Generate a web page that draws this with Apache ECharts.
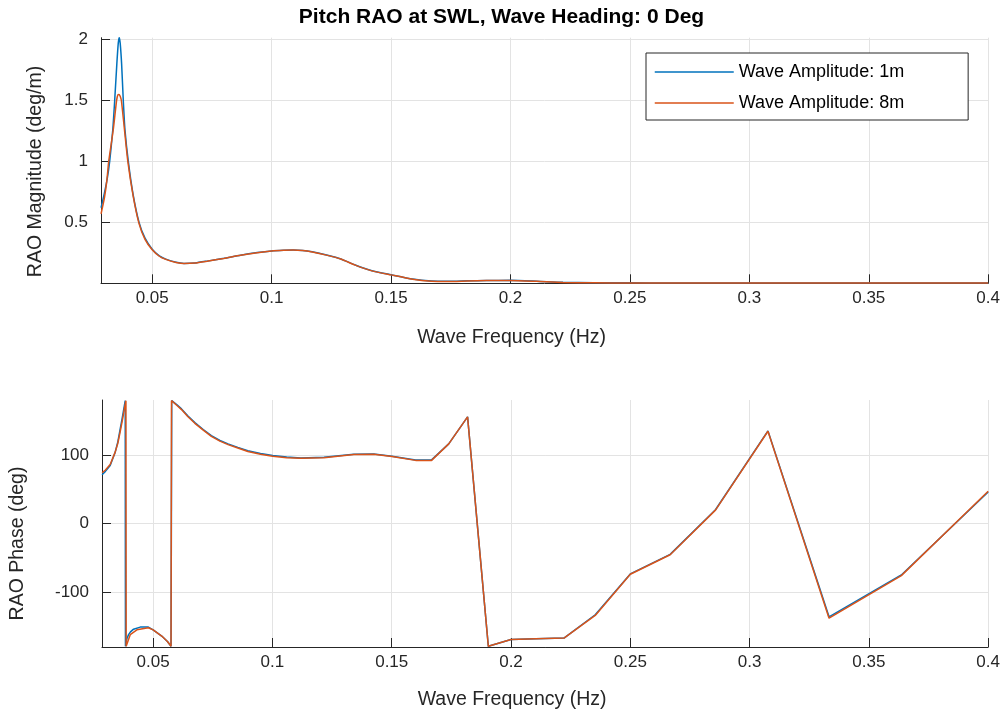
<!DOCTYPE html>
<html>
<head>
<meta charset="utf-8">
<script src="https://cdn.jsdelivr.net/npm/echarts@6/dist/echarts.min.js"></script>
<style>
html,body{margin:0;padding:0;background:#fff;}
#chart{width:1003px;height:714px;}
</style>
</head>
<body>
<div id="chart"></div>
<script>
// ---------- DATA ----------
const seriesNames = ['Wave Amplitude: 1m', 'Wave Amplitude: 8m'];

// Magnitude, 1 m amplitude
const freqMag1 = [0.0286,0.0300,0.0312,0.0322,0.0335,0.0343,0.0352,0.0358,0.0362,0.0366,0.0372,0.0379,0.0386,0.0400,0.0420,0.0445,0.0470,0.0500,0.0530,0.0557,0.0600,0.0633,0.0680,0.0730,0.0800,0.0870,0.0940,0.1000,0.1050,0.1090,0.1130,0.1170,0.1230,0.1290,0.1350,0.1420,0.1500,0.1590,0.1670,0.1740,0.1820,0.1900,0.2000,0.2110,0.2220,0.2350,0.2500,0.2670,0.2860,0.3080,0.3330,0.3640,0.4000];
const mag1 = [0.62,0.74,0.86,1.00,1.26,1.50,1.80,1.97,2.015,1.97,1.80,1.50,1.26,1.00,0.73,0.50,0.37,0.28,0.225,0.198,0.172,0.163,0.167,0.182,0.205,0.231,0.252,0.266,0.272,0.274,0.270,0.258,0.232,0.200,0.150,0.103,0.070,0.035,0.018,0.016,0.020,0.023,0.024,0.017,0.008,0.005,0.004,0.003,0.003,0.003,0.003,0.003,0.003];

// Magnitude, 8 m amplitude
const freqMag8 = [0.0286,0.0300,0.0310,0.0318,0.0337,0.0351,0.0356,0.0361,0.0366,0.0371,0.0384,0.0398,0.0420,0.0445,0.0470,0.0500,0.0530,0.0557,0.0600,0.0633,0.0680,0.0730,0.0800,0.0870,0.0940,0.1000,0.1050,0.1090,0.1130,0.1170,0.1230,0.1290,0.1350,0.1420,0.1500,0.1590,0.1670,0.1740,0.1820,0.1900,0.2000,0.2110,0.2220,0.2350,0.2500,0.2670,0.2860,0.3080,0.3330,0.3640,0.4000];
const mag8 = [0.57,0.70,0.84,1.00,1.26,1.50,1.545,1.55,1.535,1.50,1.26,1.00,0.72,0.49,0.36,0.275,0.222,0.196,0.171,0.162,0.166,0.181,0.204,0.230,0.251,0.265,0.271,0.273,0.269,0.257,0.231,0.199,0.149,0.102,0.069,0.034,0.017,0.015,0.019,0.022,0.023,0.016,0.007,0.004,0.003,0.003,0.003,0.003,0.003,0.003,0.003];

// Phase, 1 m amplitude
const freqPh1 = [0.0286,0.0300,0.0320,0.0341,0.0352,0.0362,0.0370,0.0376,0.0380,0.0383,0.0384,0.0390,0.0397,0.0405,0.0418,0.0446,0.0480,0.0500,0.0536,0.0560,0.0575,0.0578,0.0600,0.0619,0.0645,0.0675,0.0710,0.0744,0.0780,0.0814,0.0855,0.0897,0.0950,0.1001,0.1060,0.1119,0.1216,0.1341,0.1425,0.1501,0.1600,0.1667,0.1739,0.1818,0.1905,0.2000,0.2105,0.2222,0.2353,0.2500,0.2667,0.2857,0.3077,0.3333,0.3636,0.4000];
const phase1 = [71,76,84.5,104,119,138,153,165,173,179,-179,-168,-162,-158,-154,-151,-151,-155,-164,-172,-179,179,173,167,157,147,137,128,121,116,111,106,102,99,97,95.6,96.5,101,101.4,98,92.7,92.7,116,155.5,-179,-169,-168,-167,-133,-73.5,-45,20,135,-136,-75,46];

// Phase, 8 m amplitude
const freqPh8 = [0.0286,0.0300,0.0320,0.0341,0.0352,0.0362,0.0372,0.0380,0.0386,0.0387,0.0393,0.0404,0.0432,0.0480,0.0500,0.0536,0.0560,0.0575,0.0577,0.0600,0.0619,0.0645,0.0675,0.0710,0.0744,0.0780,0.0814,0.0855,0.0897,0.0950,0.1001,0.1060,0.1119,0.1216,0.1341,0.1425,0.1501,0.1600,0.1667,0.1739,0.1818,0.1905,0.2000,0.2105,0.2222,0.2353,0.2500,0.2667,0.2857,0.3077,0.3333,0.3636,0.4000];
const phase8 = [74,78,86,104,117,134,152,168,179,-179,-177,-162,-155,-152,-155,-164,-172,-179,179,172,166,156,146,136,127,120,115,110,105,101,98,96,95,96,100.5,101,97.5,92,92,116,155.5,-179,-169,-168,-167,-134,-74,-45.5,19.5,134.5,-138,-76,47];

// Axis ticks
const freqTicks = [0.05,0.1,0.15,0.2,0.25,0.3,0.35,0.4];
const magTicks = [0.5,1,1.5,2];
const phaseTicks = [-100,0,100];
const freqRange = [0.02857, 0.4];
const magRange = [0, 2.015];
const phaseRange = [-180, 180];

// ---------- CHART ----------
const pairs = (xs, ys) => xs.map((x, i) => [x, ys[i]]);
const BLUE = '#0072BD', ORANGE = '#D95319', AX = '#262626', GRID = '#e3e3e3';
const FONT = 'Liberation Sans, Arial, Helvetica, sans-serif';
const TICK_FS = 17, NAME_FS = 19.5;

function xAxis(idx) {
  return {
    type: 'value', gridIndex: idx, min: freqRange[0], max: freqRange[1],
    name: 'Wave Frequency (Hz)', nameLocation: 'middle', nameGap: idx === 0 ? 44 : 43,
    nameTextStyle: { color: AX, fontSize: NAME_FS, fontFamily: FONT, padding: [0, 66, 0, 0] },
    axisLine: { onZero: false, lineStyle: { color: AX, width: 1 } },
    axisTick: { inside: true, length: 9, customValues: freqTicks, lineStyle: { color: AX } },
    axisLabel: { customValues: freqTicks, color: AX, fontSize: TICK_FS, fontFamily: FONT, margin: 7,
      formatter: v => String(+v.toFixed(2)) },
    splitLine: { show: true, lineStyle: { color: GRID, width: 1 } }
  };
}
function yAxis(idx, name, range, ticks, gap, shift) {
  return {
    type: 'value', gridIndex: idx, min: range[0], max: range[1],
    name: name, nameLocation: 'middle', nameGap: gap,
    nameTextStyle: { color: AX, fontSize: NAME_FS, fontFamily: FONT, padding: [0, shift, 0, 0] },
    axisLine: { show: true, onZero: false, lineStyle: { color: AX, width: 1 } },
    axisTick: { show: true, inside: true, length: 9, customValues: ticks, lineStyle: { color: AX } },
    axisLabel: { customValues: ticks, color: AX, fontSize: TICK_FS, fontFamily: FONT, margin: 13 },
    splitLine: { show: true, lineStyle: { color: GRID, width: 1 } }
  };
}
function line(name, data, color, xi, smooth) {
  return {
    name: name, type: 'line', xAxisIndex: xi, yAxisIndex: xi, data: data,
    symbol: 'none', showSymbol: false, smooth: smooth ? 0.2 : false,
    lineStyle: { color: color, width: 1.5 }, itemStyle: { color: color },
    animation: false, clip: true
  };
}

const chart = echarts.init(document.getElementById('chart'), null, { renderer: 'canvas' });
chart.setOption({
  backgroundColor: '#fff',
  animation: false,
  title: {
    text: 'Pitch RAO at SWL, Wave Heading: 0 Deg', left: 'center', top: 2,
    textStyle: { fontSize: 21, fontWeight: 'bold', color: '#000', fontFamily: FONT }
  },
  legend: {
    data: seriesNames, orient: 'vertical', left: 646, top: 53,
    backgroundColor: '#fff', borderColor: AX, borderWidth: 1, borderRadius: 0,
    padding: [10, 64, 8, 8], itemWidth: 79, itemHeight: 16, itemGap: 13,
    itemStyle: { opacity: 0 },
    lineStyle: { width: 1.5 },
    textStyle: { fontSize: 18, color: '#000', fontFamily: FONT }
  },
  grid: [
    { left: 101, right: 12, top: 37.7, height: 245.6, containLabel: false },
    { left: 101, right: 12, top: 400, height: 247, containLabel: false }
  ],
  xAxis: [xAxis(0), xAxis(1)],
  yAxis: [
    yAxis(0, 'RAO Magnitude (deg/m)', magRange, magTicks, 55, 22),
    yAxis(1, 'RAO Phase (deg)', phaseRange, phaseTicks, 74, 40)
  ],
  series: [
    line(seriesNames[0], pairs(freqMag1, mag1), BLUE, 0, true),
    line(seriesNames[1], pairs(freqMag8, mag8), ORANGE, 0, true),
    line(seriesNames[0], pairs(freqPh1, phase1), BLUE, 1, false),
    line(seriesNames[1], pairs(freqPh8, phase8), ORANGE, 1, false)
  ]
});
</script>
</body>
</html>
